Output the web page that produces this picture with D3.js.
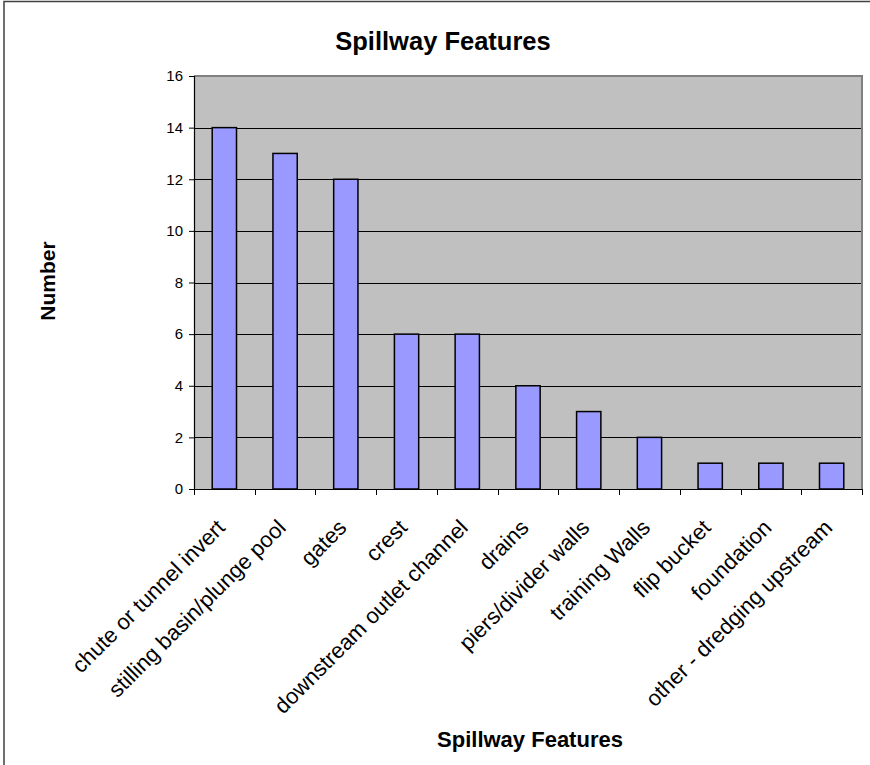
<!DOCTYPE html>
<html>
<head>
<meta charset="utf-8">
<script src="https://cdn.jsdelivr.net/npm/d3@7"></script>
<style>
  html, body { margin: 0; padding: 0; background: #fff; }
  svg { display: block; }
  text { font-family: "Liberation Sans", Arial, sans-serif; fill: #000; }
</style>
</head>
<body>
<svg id="chart" width="870" height="765"></svg>
<script>
const categories = [
  "chute or tunnel invert",
  "stilling basin/plunge pool",
  "gates",
  "crest",
  "downstream outlet channel",
  "drains",
  "piers/divider walls",
  "training Walls",
  "flip bucket",
  "foundation",
  "other - dredging upstream"
];
const values = [14, 13, 12, 6, 6, 4, 3, 2, 1, 1, 1];
const yTicks = [0, 2, 4, 6, 8, 10, 12, 14, 16];
const chartTitle = "Spillway Features";
const xTitle = "Spillway Features";
const yTitle = "Number";

const svg = d3.select("#chart");
const W = 870, H = 765;
const plot = { left: 194, right: 862, top: 76, bottom: 489 };

// outer frame (top and left edges visible)
svg.append("path")
  .attr("d", `M4,${H} L4,1.5 L${W},1.5`)
  .attr("fill", "none")
  .attr("stroke", "#404040")
  .attr("stroke-width", 1.5);

const x = d3.scaleBand()
  .domain(categories)
  .range([plot.left, plot.right])
  .paddingInner(0).paddingOuter(0);

const y = d3.scaleLinear()
  .domain([0, 16])
  .range([plot.bottom, plot.top]);

// plot background
svg.append("rect")
  .attr("x", plot.left).attr("y", plot.top)
  .attr("width", plot.right - plot.left)
  .attr("height", plot.bottom - plot.top)
  .attr("fill", "#C0C0C0");

// gridlines
svg.append("g")
  .selectAll("line")
  .data(yTicks.filter(d => d > 0 && d < 16))
  .join("line")
  .attr("x1", plot.left).attr("x2", plot.right)
  .attr("y1", d => Math.round(y(d)) + 0.5).attr("y2", d => Math.round(y(d)) + 0.5)
  .attr("stroke", "#000").attr("stroke-width", 1);

// plot border top & right (gray)
svg.append("path")
  .attr("d", `M${plot.left},${plot.top} L${plot.right},${plot.top} L${plot.right},${plot.bottom}`)
  .attr("fill", "none").attr("stroke", "#808080").attr("stroke-width", 2);

// bars
const bw = x.bandwidth() * 0.4;
svg.append("g")
  .selectAll("rect")
  .data(values)
  .join("rect")
  .attr("x", (d, i) => x(categories[i]) + (x.bandwidth() - bw) / 2)
  .attr("y", d => y(d))
  .attr("width", bw)
  .attr("height", d => y(0) - y(d))
  .attr("fill", "#9999FF")
  .attr("stroke", "#000")
  .attr("stroke-width", 1.5);

// y axis
const yAxis = d3.axisLeft(y).tickValues(yTicks).tickSize(5).tickPadding(6).tickFormat(d3.format("d"));
const gy = svg.append("g").attr("transform", `translate(${plot.left},0)`).call(yAxis);
gy.select(".domain").attr("stroke", "#000").attr("stroke-width", 1.2);
gy.selectAll(".tick line").attr("stroke", "#000");
gy.selectAll(".tick text").attr("font-size", 15).attr("font-family", "Liberation Sans, Arial, sans-serif");

// x axis: ticks at band boundaries
const boundaries = categories.map(c => x(c)).concat([plot.right]);
const gx = svg.append("g");
gx.append("line")
  .attr("x1", plot.left).attr("x2", plot.right)
  .attr("y1", plot.bottom + 0.5).attr("y2", plot.bottom + 0.5)
  .attr("stroke", "#000").attr("stroke-width", 1.2);
gx.selectAll("line.tk")
  .data(boundaries)
  .join("line").attr("class", "tk")
  .attr("x1", d => Math.round(d) + 0.5).attr("x2", d => Math.round(d) + 0.5)
  .attr("y1", plot.bottom).attr("y2", plot.bottom + 6)
  .attr("stroke", "#000");

// category labels
gx.selectAll("text")
  .data(categories)
  .join("text")
  .attr("transform", d => `translate(${x(d) + x.bandwidth() / 2 + 2},529) rotate(-45)`)
  .attr("text-anchor", "end")
  .attr("font-size", 22)
  .text(d => d);

// titles
svg.append("text")
  .attr("x", 443).attr("y", 50)
  .attr("text-anchor", "middle")
  .attr("font-size", 25.5).attr("font-weight", "bold")
  .text(chartTitle);

svg.append("text")
  .attr("x", 530).attr("y", 747)
  .attr("text-anchor", "middle")
  .attr("font-size", 22).attr("font-weight", "bold")
  .text(xTitle);

svg.append("text")
  .attr("transform", "translate(55,281) rotate(-90)")
  .attr("text-anchor", "middle")
  .attr("font-size", 21).attr("font-weight", "bold")
  .text(yTitle);
</script>
</body>
</html>
